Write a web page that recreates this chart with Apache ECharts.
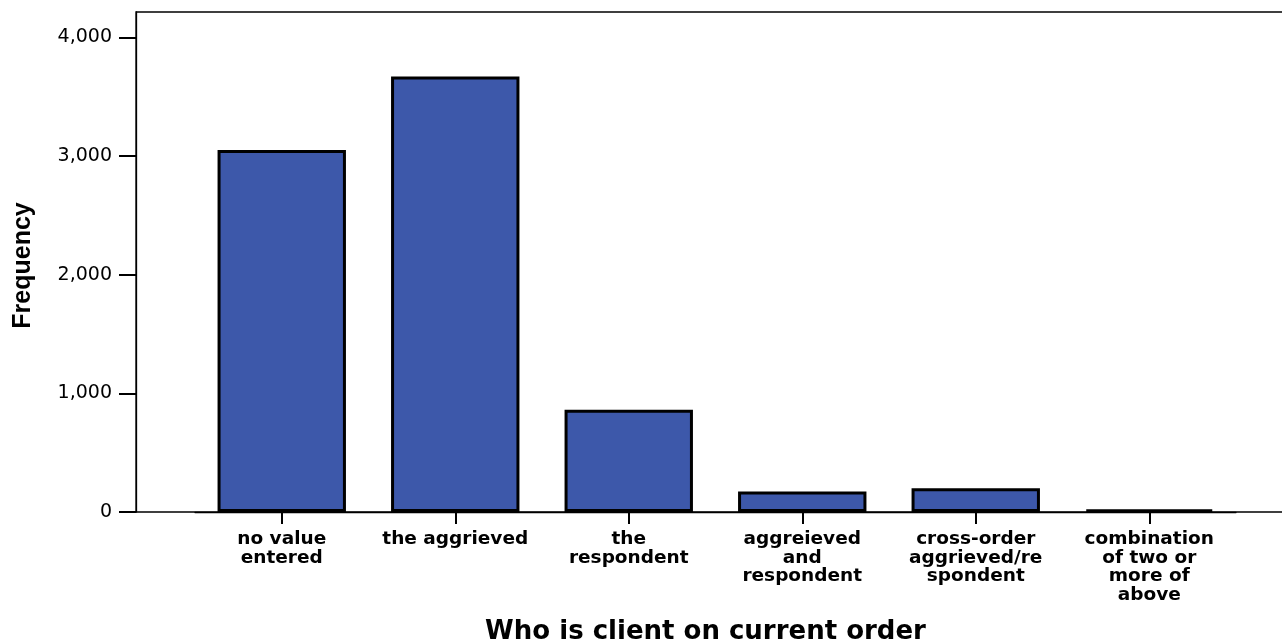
<!DOCTYPE html>
<html><head><meta charset="utf-8">
<script src="https://cdn.jsdelivr.net/npm/echarts@6/dist/echarts.min.js"></script>
<style>html,body{margin:0;padding:0;background:#fff}#c{width:1282px;height:643px}</style>
</head><body><div id="c"></div>
<script>
const categories = ['no value\nentered', 'the aggrieved', 'the\nrespondent', 'aggreieved\nand\nrespondent', 'cross-order\naggrieved/re\nspondent', 'combination\nof two or\nmore of\nabove'];
const frequencies = [3052, 3671, 863, 172, 200, 20];
const yTicks = [0, 1000, 2000, 3000, 4000];
const yMax = 4215;
const xTitle = 'Who is client on current order';
const yTitle = 'Frequency';

const chart = echarts.init(document.getElementById('c'), null, {renderer: 'canvas'});
chart.setOption({
  animation: false,
  backgroundColor: '#fff',
  grid: [
    {left: 136, right: -3, top: 12, bottom: 131, show: true, borderColor: '#000', borderWidth: 1.3, backgroundColor: 'transparent', outerBoundsMode: 'none', containLabel: false},
    {left: 195, right: 46, top: 12, bottom: 131, outerBoundsMode: 'none', containLabel: false}
  ],
  xAxis: [
    {gridIndex: 0, type: 'value', min: 0, max: 1,
     axisLine: {show: false}, axisTick: {show: false}, axisLabel: {show: false}, splitLine: {show: false},
     name: xTitle, nameLocation: 'middle', nameGap: 107,
     nameTextStyle: {fontFamily: 'DejaVu Sans', fontWeight: 'bold', fontSize: 26, color: '#000', padding: [0, 10, 0, 0]}},
    {gridIndex: 1, type: 'category', data: categories,
     axisLine: {show: true, lineStyle: {color: '#000', width: 1.3}},
     axisTick: {show: true, alignWithLabel: true, length: 12, lineStyle: {color: '#000', width: 2}},
     axisLabel: {interval: 0, margin: 18, fontFamily: 'DejaVu Sans', fontWeight: 'bold', fontSize: 18.5, lineHeight: 18.5, color: '#000', align: 'center'},
     splitLine: {show: false}}
  ],
  yAxis: [
    {gridIndex: 0, type: 'value', min: 0, max: yMax, interval: 1000, position: 'left',
     axisLine: {show: true, lineStyle: {color: '#000', width: 1.3}},
     axisTick: {show: true, inside: false, length: 17, lineStyle: {color: '#000', width: 2}, customValues: yTicks},
     axisLabel: {margin: 24, fontFamily: 'DejaVu Sans', fontSize: 19, color: '#000', customValues: yTicks,
       formatter: v => Number(v).toLocaleString('en-US')},
     splitLine: {show: false},
     name: yTitle, nameLocation: 'middle', nameRotate: 90, nameGap: 100,
     nameTextStyle: {fontFamily: 'Liberation Sans', fontWeight: 'bold', fontSize: 25, color: '#000', padding: [0, 7, 0, 0]}},
    {gridIndex: 1, type: 'value', min: 0, max: yMax, show: false, splitLine: {show: false}}
  ],
  series: [{
    type: 'bar', xAxisIndex: 1, yAxisIndex: 1, data: frequencies, barWidth: '74%',
    itemStyle: {color: '#3d58aa', borderColor: '#000', borderWidth: 3}
  }]
});
</script></body></html>
